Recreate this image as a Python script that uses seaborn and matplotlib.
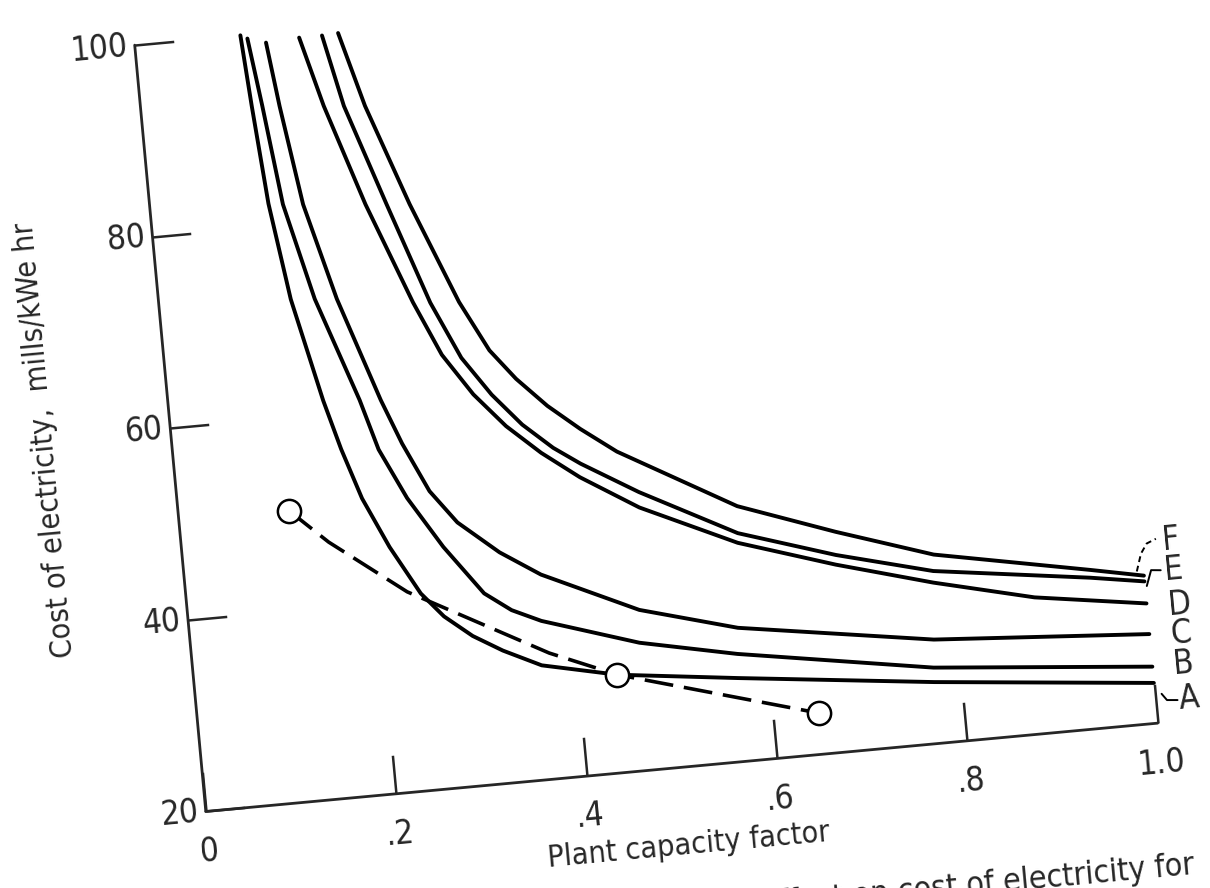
import matplotlib
matplotlib.use('Agg')
import matplotlib.pyplot as plt
import seaborn as sns
from matplotlib.transforms import Affine2D
from mpl_toolkits.axisartist import floating_axes
from mpl_toolkits.axisartist.grid_finder import FixedLocator, DictFormatter

sns.set_style('white')
plt.rcParams['font.family'] = ['Liberation Sans Narrow', 'DejaVu Sans']
plt.rcParams['font.stretch'] = 'condensed'

# ---- 数据 ----
cf_A = [0.111, 0.116, 0.124, 0.138, 0.162, 0.176, 0.193, 0.217, 0.245, 0.267, 0.295, 0.325, 0.364,
        0.442, 0.567, 0.771, 1.0]
cost_A = [100.0, 92.6, 82.3, 72.2, 61.4, 56.2, 50.9, 45.6, 40.5, 37.9, 35.6, 33.8, 31.9,
          30.2, 28.7, 26.4, 24.2]

cf_B = [0.118, 0.127, 0.139, 0.163, 0.200, 0.215, 0.240, 0.273, 0.311, 0.338, 0.368, 0.468, 0.569,
        0.772, 1.0]
cost_B = [99.6, 92.5, 82.1, 72.0, 61.1, 55.8, 50.5, 45.1, 39.9, 37.9, 36.5, 33.3, 31.2,
          27.9, 25.9]

cf_C = [0.137, 0.145, 0.160, 0.186, 0.222, 0.240, 0.264, 0.290, 0.331, 0.372, 0.471, 0.572, 0.775, 1.0]
cost_C = [99.0, 92.3, 81.9, 71.8, 60.9, 56.2, 51.0, 47.5, 44.0, 41.3, 36.7, 33.9, 30.8, 29.3]

cf_D = [0.172, 0.191, 0.225, 0.265, 0.290, 0.319, 0.350, 0.384, 0.422, 0.481, 0.580, 0.680, 0.780,
        0.884, 1.0]
cost_D = [99.2, 91.9, 81.3, 70.7, 65.0, 60.6, 57.0, 53.9, 51.0, 47.3, 42.7, 39.5, 36.7,
          34.2, 32.5]

cf_E = [0.196, 0.212, 0.247, 0.283, 0.310, 0.338, 0.367, 0.397, 0.424, 0.482, 0.581, 0.681, 0.781,
        0.944, 1.0]
cost_E = [99.2, 91.7, 81.1, 70.5, 64.5, 60.4, 57.0, 54.3, 52.4, 48.9, 43.7, 40.5, 37.9,
          35.7, 34.8]

cf_F = [0.213, 0.234, 0.271, 0.313, 0.340, 0.365, 0.395, 0.427, 0.463, 0.583, 0.683, 0.783, 0.945, 1.0]
cost_F = [99.3, 91.5, 80.9, 70.3, 65.0, 61.8, 58.7, 56.0, 53.3, 46.5, 42.9, 39.6, 36.5, 35.4]

# 虚线（最优点轨迹）与圆点
opt_line_cf = [0.116, 0.154, 0.231, 0.373, 0.442, 0.648]
opt_line_cost = [50.3, 46.7, 40.8, 33.1, 30.2, 24.3]
opt_pts_cf = [0.116, 0.442, 0.648]
opt_pts_cost = [50.3, 30.2, 24.3]

curve_names = ['A', 'B', 'C', 'D', 'E', 'F']
curves = [(cf_A, cost_A), (cf_B, cost_B), (cf_C, cost_C),
          (cf_D, cost_D), (cf_E, cost_E), (cf_F, cost_F)]

x_ticks = [0, 0.2, 0.4, 0.6, 0.8, 1.0]
x_ticklabels = ['0', '.2', '.4', '.6', '.8', '1.0']
y_ticks = [20, 40, 60, 80, 100]
y_ticklabels = ['20', '40', '60', '80', '100']

# ---- 版面：扫描件略有倾斜 ----
W, H = 1210, 888
ANGLE = 5.3
PX_X = 975.0          # 每单位容量因子的像素
PX_Y = 785.0 / 80     # 每 mill 的像素
ORIGIN = (197, 68)    # (0, 20) 所在像素，自左下角

tr = Affine2D().scale(PX_X, PX_Y).rotate_deg(ANGLE)
grid_helper = floating_axes.GridHelperCurveLinear(
    tr, extremes=(0, 1, 20, 100),
    grid_locator1=FixedLocator(x_ticks),
    tick_formatter1=DictFormatter(dict(zip(x_ticks, x_ticklabels))),
    grid_locator2=FixedLocator(y_ticks),
    tick_formatter2=DictFormatter(dict(zip(y_ticks, y_ticklabels))))

corners = tr.transform([[0, 20], [1, 20], [1, 100], [0, 100]])
xmin, ymin = corners.min(axis=0)
xmax, ymax = corners.max(axis=0)
ox, oy = corners[0]
rect = [(ORIGIN[0] - (ox - xmin)) / W, (ORIGIN[1] - (oy - ymin)) / H,
        (xmax - xmin) / W, (ymax - ymin) / H]

fig = plt.figure(figsize=(W / 100, H / 100), dpi=100)
fig.patch.set_facecolor('white')
ax = fig.add_axes(rect, axes_class=floating_axes.FloatingAxes, grid_helper=grid_helper)
ax.grid(False)
aux = ax.get_aux_axes(tr)

for name in ['top', 'right']:
    ax.axis[name].set_visible(False)
for name in ['bottom', 'left']:
    a = ax.axis[name]
    a.line.set_linewidth(2.0)
    a.major_ticks.set_ticksize(28)
    a.major_ticks.set_tick_out(False)
    a.major_ticks.set_markeredgewidth(1.8)
    a.major_ticklabels.set_fontsize(24)
ax.axis['bottom'].major_ticklabels.set_pad(18)
ax.axis['left'].major_ticklabels.set_pad(5)

ax.axis['bottom'].label.set_text('Plant capacity factor')
ax.axis['bottom'].label.set_fontsize(22)
ax.axis['bottom'].label.set_pad(10)
ax.axis['left'].label.set_text('Cost of electricity,  mills/kWe hr')
ax.axis['left'].label.set_fontsize(22)
ax.axis['left'].label.set_pad(34)

# ---- 曲线 ----
for cf, cost in curves:
    sns.lineplot(x=cf, y=cost, ax=aux, color='black', linewidth=2.8,
                 sort=False, estimator=None, legend=False)

sns.lineplot(x=opt_line_cf, y=opt_line_cost, ax=aux, color='black', linewidth=2.6,
             linestyle=(0, (8, 3)), sort=False, estimator=None, legend=False)
sns.scatterplot(x=opt_pts_cf, y=opt_pts_cost, ax=aux, s=280, facecolor='white',
                edgecolor='black', linewidth=1.8, zorder=5, legend=False)

# ---- 曲线标注 ----
label_pos = [(1.035, 22.2), (1.033, 25.9), (1.033, 29.0),
             (1.034, 32.1), (1.031, 35.7), (1.031, 38.9)]
for name, (lx, ly) in zip(curve_names, label_pos):
    aux.text(lx, ly, name, fontsize=24, rotation=ANGLE, ha='center', va='center', clip_on=False)

aux.plot([0.993, 0.999, 1.006, 1.016], [35.9, 37.7, 38.7, 39.1], color='black',
         lw=1.4, linestyle=(0, (3, 2)), clip_on=False)
aux.plot([1.002, 1.008, 1.018], [34.3, 35.9, 35.8], color='black', lw=1.4, clip_on=False)
aux.plot([1.007, 1.012, 1.023], [23.0, 22.3, 22.2], color='black', lw=1.4, clip_on=False)

fig.text(1195 / W, (H - 874) / H, 'effect on cost of electricity for', ha='right',
         va='baseline', rotation=ANGLE, rotation_mode='anchor', fontsize=23)

fig.savefig('out.png', dpi=100, facecolor='white')
